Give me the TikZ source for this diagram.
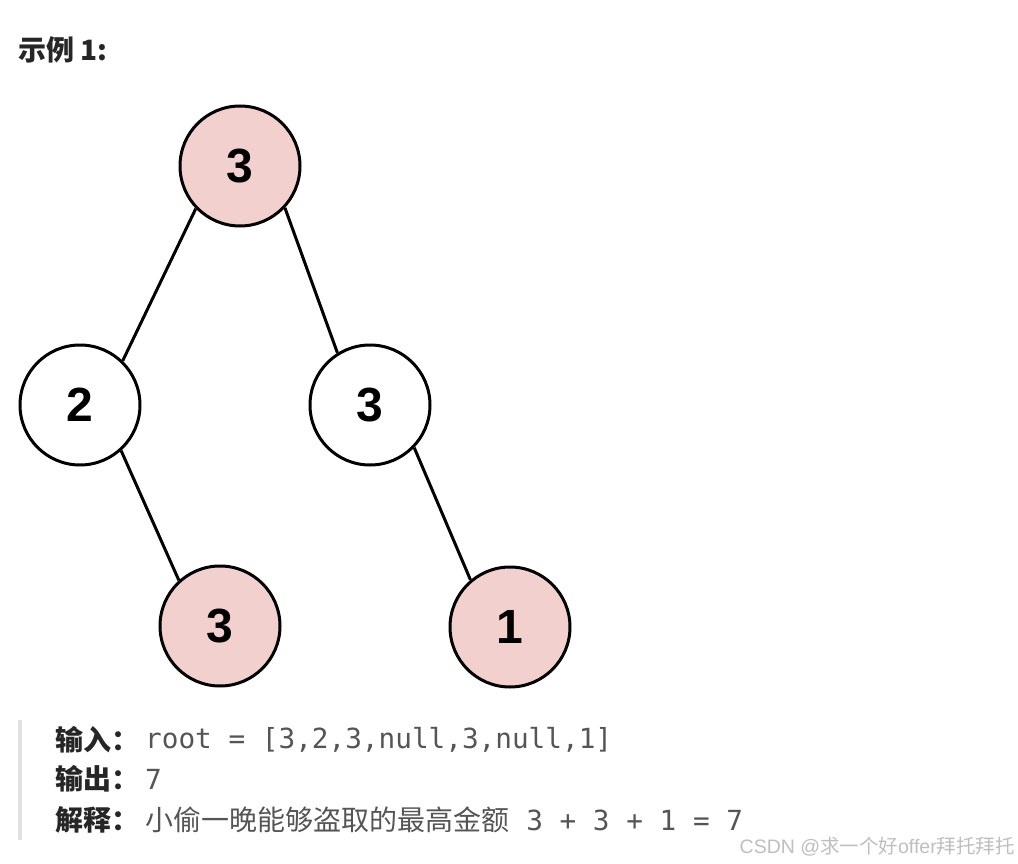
\documentclass[tikz,border=0pt]{standalone}
\usepackage{fontspec}
\setmainfont{Liberation Sans}
\newfontfamily\cjk{Noto Sans CJK SC}
\newfontfamily\monof{DejaVu Sans Mono}
\definecolor{nodepink}{RGB}{241,208,206}
\definecolor{txtgray}{RGB}{85,85,85}
\definecolor{wmgray}{RGB}{190,190,190}
\definecolor{bargray}{RGB}{226,226,226}
\tikzset{
  tnode/.style={circle,draw=black,line width=3pt,minimum size=120pt,inner sep=0pt,
    font=\fontsize{48}{48}\selectfont\bfseries},
  hot/.style={tnode,fill=nodepink},
  cold/.style={tnode,fill=white},
  edge/.style={line width=3pt,draw=black},
  lbl/.style={anchor=west,inner sep=0pt,font=\fontsize{28}{28}\selectfont\cjk\bfseries,text=black!85},
  val/.style={anchor=west,inner sep=0pt,font=\fontsize{27.7}{28}\selectfont\monof,text=txtgray},
  cval/.style={anchor=west,inner sep=0pt,font=\fontsize{28}{28}\selectfont\cjk,text=txtgray}
}
\begin{document}
\begin{tikzpicture}[x=1pt,y=-1pt]
\useasboundingbox (0,0) rectangle (1018,864);
\node[anchor=west,inner sep=0pt,font=\fontsize{28}{28}\selectfont\cjk\bfseries,text=black!85] (title) at (18,50) {示例 1:};
\node[hot]  (r)  at (240,166) {3};
\node[cold] (a)  at (80,405)  {2};
\node[cold] (b)  at (370,405) {3};
\node[hot]  (c)  at (220,626) {3};
\node[hot]  (d)  at (510,627) {1};
\draw[edge] (r.-136) -- (a.46);
\draw[edge] (r.-43)  -- (b.122);
\draw[edge] (a.-48)  -- (c.132);
\draw[edge] (b.-44)  -- (d.130);
\coordinate (bt) at (20,720);
\coordinate (bb) at (20,840);
\draw[bargray,line width=4pt] (bt) -- (bb);
\node[lbl] (l1) at (55,740) {输入：};
\node[val] (v1) at (145,740) {root = [3,2,3,null,3,null,1]};
\node[lbl] (l2) at (55,779) {输出：};
\node[val] (v2) at (145,779) {7};
\node[lbl] (l3) at (55,820) {解释：};
\node[cval] (v3) at (145,820) {小偷一晚能够盗取的最高金额};
\node[val] (v4) at (v3.east) {\ 3 + 3 + 1 = 7};
\node[anchor=east,inner sep=0pt,font=\fontsize{19.5}{20}\selectfont,text=wmgray] (wm) at (1015,847) {CSDN @{\cjk 求一个好}offer{\cjk 拜托拜托}};
\end{tikzpicture}
\end{document}
